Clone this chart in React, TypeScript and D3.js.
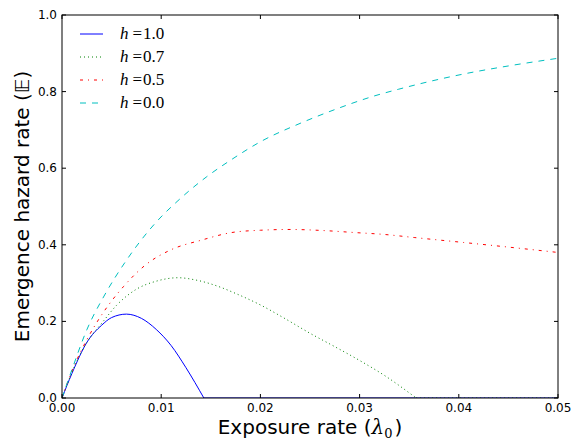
import React from 'react';
import * as d3 from 'd3';

// h = 1.0
const blueX = [0, 0.001, 0.0025, 0.004, 0.005, 0.0065, 0.008, 0.0095, 0.011, 0.0125, 0.0143];
const blueY = [0, 0.064, 0.145, 0.19, 0.21, 0.219, 0.208, 0.179, 0.137, 0.079, 0];
// h = 0.7
const greenX = [0, 0.001, 0.0025, 0.004, 0.0055, 0.0075, 0.0095, 0.0117, 0.0135, 0.016, 0.0175, 0.02, 0.0225, 0.025, 0.0275, 0.03, 0.0325, 0.0357];
const greenY = [0, 0.067, 0.145, 0.195, 0.242, 0.284, 0.305, 0.314, 0.308, 0.289, 0.273, 0.243, 0.207, 0.169, 0.134, 0.098, 0.059, 0];
// h = 0.5
const redX = [0, 0.001, 0.0025, 0.0035, 0.0047, 0.0062, 0.0084, 0.0109, 0.0141, 0.0171, 0.02, 0.023, 0.0265, 0.0295, 0.0325, 0.0355, 0.0405, 0.045, 0.05];
const redY = [0, 0.07, 0.152, 0.197, 0.243, 0.291, 0.347, 0.386, 0.4125, 0.432, 0.438, 0.44, 0.437, 0.432, 0.427, 0.419, 0.406, 0.394, 0.38];
// h = 0.0
const cyanX = [0, 0.001, 0.0025, 0.0043, 0.0064, 0.008, 0.0097, 0.0116, 0.0146, 0.017, 0.02, 0.024, 0.0277, 0.0314, 0.0339, 0.0405, 0.045, 0.05];
const cyanY = [0, 0.074, 0.178, 0.269, 0.356, 0.413, 0.465, 0.513, 0.578, 0.621, 0.669, 0.717, 0.755, 0.788, 0.806, 0.846, 0.867, 0.887];

const legendLabels = ['1.0', '0.7', '0.5', '0.0'];
const xTicks = [0, 0.01, 0.02, 0.03, 0.04, 0.05];
const yTicks = [0, 0.2, 0.4, 0.6, 0.8, 1.0];

const W = 576, H = 442;
const margin = { top: 15, right: 18, bottom: 44, left: 62 };

export default function App() {
  const x = d3.scaleLinear().domain([0, 0.05]).range([margin.left, W - margin.right]);
  const y = d3.scaleLinear().domain([0, 1]).range([H - margin.bottom, margin.top]);

  const line = d3.line<[number, number]>()
    .x(d => x(d[0]))
    .y(d => y(d[1]))
    .curve(d3.curveMonotoneX);
  const flat = d3.line<[number, number]>().x(d => x(d[0])).y(d => y(d[1]));

  const zip = (xs: number[], ys: number[]) => xs.map((v, i) => [v, ys[i]] as [number, number]);

  const series = [
    { xs: blueX, ys: blueY, color: '#0000ff', dash: null },
    { xs: greenX, ys: greenY, color: '#008000', dash: '1,3' },
    { xs: redX, ys: redY, color: '#ff0000', dash: '3,5,1,5' },
    { xs: cyanX, ys: cyanY, color: '#00bfbf', dash: '6,6' },
  ];

  const x0 = x(0), x1 = x(0.05), yb = y(0), yt = y(1);

  return (
    <svg width={W} height={H} style={{ position: 'absolute', left: 0, top: 0, background: '#fff' }}>
      <defs>
        <clipPath id="plot">
          <rect x={x0} y={yt} width={x1 - x0} height={yb - yt} />
        </clipPath>
      </defs>
      <g clipPath="url(#plot)">
        {series.map((s, i) => {
          const pts = zip(s.xs, s.ys);
          const last = s.xs[s.xs.length - 1];
          return (
            <g key={i}>
              <path d={line(pts) || ''} fill="none" stroke={s.color} strokeWidth={1}
                strokeDasharray={s.dash || undefined} />
              {last < 0.05 && (
                <path d={flat([[last, 0], [0.05, 0]]) || ''} fill="none" stroke={s.color}
                  strokeWidth={1} strokeDasharray={s.dash || undefined} />
              )}
            </g>
          );
        })}
      </g>

      {/* frame */}
      <rect x={x0} y={yt} width={x1 - x0} height={yb - yt} fill="none" stroke="#000" strokeWidth={1} />

      {/* ticks */}
      {xTicks.map(t => (
        <g key={'x' + t}>
          <line x1={x(t)} x2={x(t)} y1={yb} y2={yb - 4} stroke="#000" />
          <line x1={x(t)} x2={x(t)} y1={yt} y2={yt + 4} stroke="#000" />
          <text x={x(t)} y={yb + 13.5} textAnchor="middle" fontFamily="DejaVu Sans" fontSize={12}>
            {d3.format('.2f')(t)}
          </text>
        </g>
      ))}
      {yTicks.map(t => (
        <g key={'y' + t}>
          <line x1={x0} x2={x0 + 4} y1={y(t)} y2={y(t)} stroke="#000" />
          <line x1={x1} x2={x1 - 4} y1={y(t)} y2={y(t)} stroke="#000" />
          <text x={x0 - 5} y={y(t) + 4} textAnchor="end" fontFamily="DejaVu Sans" fontSize={12}>
            {d3.format('.1f')(t)}
          </text>
        </g>
      ))}

      {/* axis labels */}
      <text x={(x0 + x1) / 2} y={434} textAnchor="middle" fontFamily="DejaVu Sans" fontSize={20}>
        Exposure rate (<tspan fontFamily="DejaVu Serif" fontStyle="italic">λ</tspan>
        <tspan fontFamily="DejaVu Serif" fontSize={13} dy={4}>0</tspan>
        <tspan dy={-4} dx={2}>)</tspan>
      </text>
      <text transform={`translate(29,${(yb + yt) / 2}) rotate(-90)`} textAnchor="middle"
        fontFamily="DejaVu Sans" fontSize={20}>
        Emergence hazard rate (𝔼)
      </text>

      {/* legend */}
      {series.map((s, i) => {
        const ly = 34 + i * 23;
        return (
          <g key={'l' + i}>
            <line x1={80} x2={103} y1={ly} y2={ly} stroke={s.color} strokeWidth={1}
              strokeDasharray={s.dash || undefined} />
            <text x={120} y={ly + 5} fontFamily="Liberation Serif" fontSize={17}>
              <tspan fontStyle="italic">h</tspan>
              <tspan dx={4}>=</tspan>
              <tspan dx={1}>{legendLabels[i]}</tspan>
            </text>
          </g>
        );
      })}
    </svg>
  );
}
